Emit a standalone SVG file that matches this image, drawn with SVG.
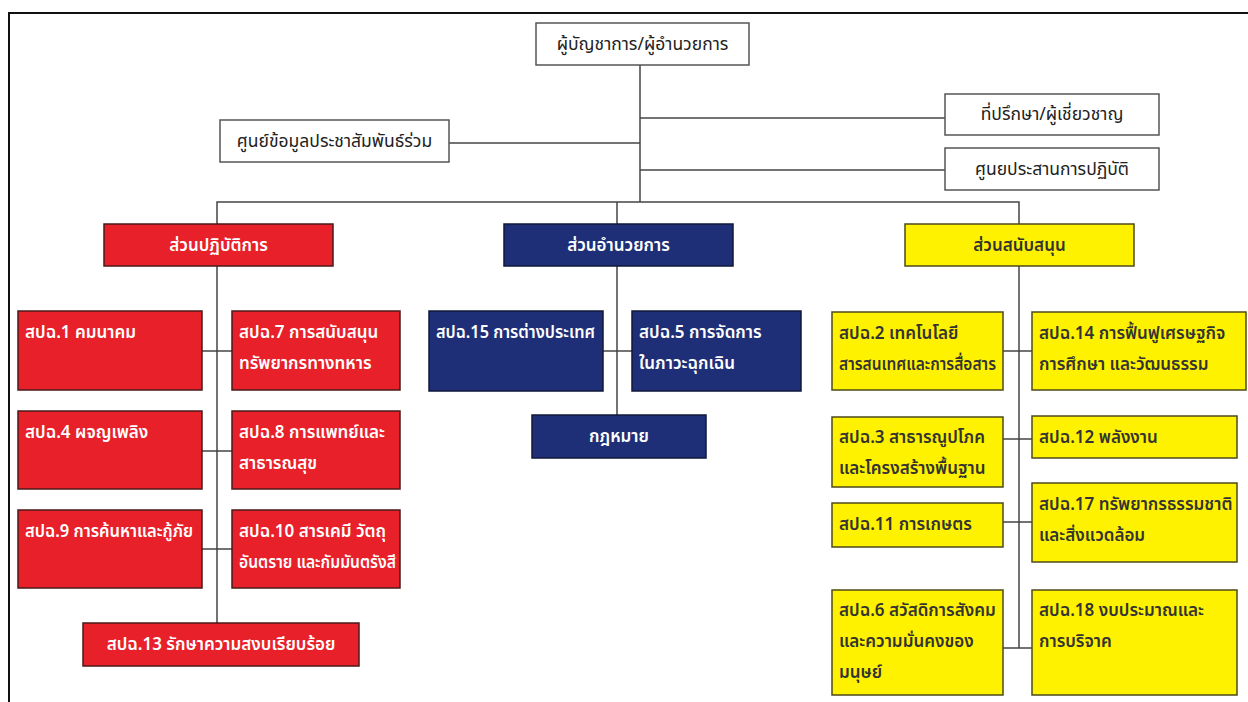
<svg xmlns="http://www.w3.org/2000/svg" width="1248" height="702" viewBox="0 0 1248 702">
<style>
text{font-family:"Noto Sans Thai","Tahoma","DejaVu Sans","Noto Sans",sans-serif;font-size:17px}
.w rect{fill:#fff;stroke:#555;stroke-width:1.5}
.w text{fill:#222;text-anchor:middle;font-size:17.5px}
.r rect{fill:#e8202a;stroke:#4a1a1a;stroke-width:1.5}
.r text{fill:#fff;font-weight:600}
.b rect{fill:#1e2f78;stroke:#10183a;stroke-width:1.5}
.b text{fill:#fff;font-weight:600}
.y rect{fill:#fff200;stroke:#4d4a1a;stroke-width:1.5}
.y text{fill:#333;font-weight:600}
.c{text-anchor:middle}
#conn path{fill:none;stroke:#444;stroke-width:1.5}
</style>
<rect width="1248" height="702" fill="#fff"/>
<path d="M9 702V13H1248" fill="none" stroke="#111" stroke-width="2"/>
<g id="conn">
<path d="M640 65V202"/>
<path d="M640 118H945"/>
<path d="M449 143H640"/>
<path d="M640 170H945"/>
<path d="M217 224V202H1019V224"/>
<path d="M617 202V224"/>
<path d="M217 266V623"/>
<path d="M202 351H232M202 451H232M202 549H232"/>
<path d="M617 266V415"/>
<path d="M603 351H632"/>
<path d="M1019 266V648"/>
<path d="M1003 351H1032M1003 439H1032M1003 522H1032M1003 648H1032"/>
</g>
<g id="n-top" class="w"><rect x="536" y="23" width="213" height="42"/><text x="642.5" y="50">ผู้บัญชาการ/ผู้อำนวยการ</text></g>
<g id="n-advisor" class="w"><rect x="945" y="94" width="214" height="41"/><text x="1052" y="120">ที่ปรึกษา/ผู้เชี่ยวชาญ</text></g>
<g id="n-pr" class="w"><rect x="220" y="120" width="229" height="42"/><text x="334.5" y="147">ศูนย์ข้อมูลประชาสัมพันธ์ร่วม</text></g>
<g id="n-coord" class="w"><rect x="945" y="148" width="214" height="42"/><text x="1052" y="175">ศูนยประสานการปฏิบัติ</text></g>

<g id="h-ops" class="r"><rect x="104" y="224" width="229" height="42"/><text class="c" x="218.5" y="251">ส่วนปฏิบัติการ</text></g>
<g id="h-adm" class="b"><rect x="504" y="224" width="229" height="42"/><text class="c" x="618.5" y="251">ส่วนอำนวยการ</text></g>
<g id="h-sup" class="y"><rect x="905" y="224" width="229" height="42"/><text class="c" x="1019.5" y="251">ส่วนสนับสนุน</text></g>

<g id="n1" class="r"><rect x="18" y="311" width="184" height="79"/><text x="25" y="338">สปฉ.1 คมนาคม</text></g>
<g id="n7" class="r"><rect x="232" y="311" width="168" height="79"/><text x="239" y="338">สปฉ.7 การสนับสนุน</text><text x="239" y="369">ทรัพยากรทางทหาร</text></g>
<g id="n4" class="r"><rect x="18" y="411" width="184" height="78"/><text x="25" y="438">สปฉ.4  ผจญเพลิง</text></g>
<g id="n8" class="r"><rect x="232" y="411" width="168" height="78"/><text x="239" y="438">สปฉ.8 การแพทย์และ</text><text x="239" y="469">สาธารณสุข</text></g>
<g id="n9" class="r"><rect x="18" y="510" width="184" height="78"/><text x="25" y="537" textLength="168" lengthAdjust="spacingAndGlyphs">สปฉ.9 การค้นหาและกู้ภัย</text></g>
<g id="n10" class="r"><rect x="232" y="510" width="168" height="78"/><text x="239" y="537">สปฉ.10 สารเคมี วัตถุ</text><text x="239" y="568" textLength="157" lengthAdjust="spacingAndGlyphs">อันตราย และกัมมันตรังสี</text></g>
<g id="n13" class="r"><rect x="83" y="623" width="276" height="43"/><text class="c" x="221" y="650">สปฉ.13 รักษาความสงบเรียบร้อย</text></g>

<g id="n15" class="b"><rect x="429" y="311" width="174" height="80"/><text x="436" y="338" textLength="159" lengthAdjust="spacingAndGlyphs">สปฉ.15 การต่างประเทศ</text></g>
<g id="n5" class="b"><rect x="632" y="311" width="169" height="80"/><text x="639" y="338">สปฉ.5 การจัดการ</text><text x="639" y="369">ในภาวะฉุกเฉิน</text></g>
<g id="nlaw" class="b"><rect x="532" y="415" width="174" height="43"/><text class="c" x="619" y="442">กฎหมาย</text></g>

<g id="n2" class="y"><rect x="832" y="312" width="171" height="78"/><text x="839" y="339">สปฉ.2 เทคโนโลยี</text><text x="839" y="370" textLength="157" lengthAdjust="spacingAndGlyphs">สารสนเทศและการสื่อสาร</text></g>
<g id="n14" class="y"><rect x="1032" y="312" width="214" height="78"/><text x="1039" y="339">สปฉ.14  การฟื้นฟูเศรษฐกิจ</text><text x="1039" y="370">การศึกษา และวัฒนธรรม</text></g>
<g id="n3" class="y"><rect x="832" y="417" width="171" height="70"/><text x="839" y="443">สปฉ.3  สาธารณูปโภค</text><text x="839" y="474">และโครงสร้างพื้นฐาน</text></g>
<g id="n12" class="y"><rect x="1032" y="416" width="205" height="42"/><text x="1039" y="443">สปฉ.12 พลังงาน</text></g>
<g id="n11" class="y"><rect x="832" y="503" width="171" height="44"/><text x="839" y="530">สปฉ.11 การเกษตร</text></g>
<g id="n17" class="y"><rect x="1032" y="483" width="205" height="79"/><text x="1039" y="510">สปฉ.17 ทรัพยากรธรรมชาติ</text><text x="1039" y="541">และสิ่งแวดล้อม</text></g>
<g id="n6" class="y"><rect x="832" y="590" width="171" height="105"/><text x="839" y="616">สปฉ.6 สวัสดิการสังคม</text><text x="839" y="647">และความมั่นคงของ</text><text x="839" y="678">มนุษย์</text></g>
<g id="n18" class="y"><rect x="1032" y="590" width="205" height="105"/><text x="1039" y="616">สปฉ.18 งบประมาณและ</text><text x="1039" y="647">การบริจาค</text></g>
</svg>
